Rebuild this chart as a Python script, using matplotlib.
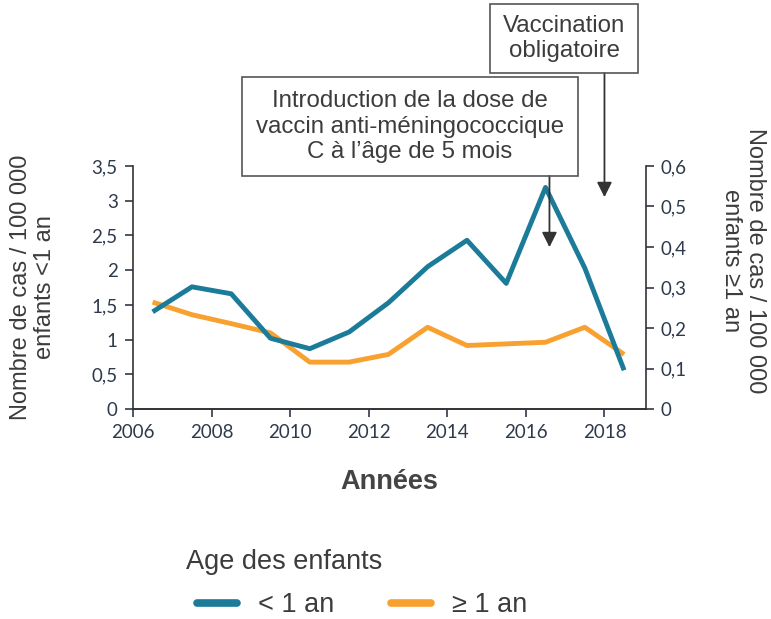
import matplotlib.pyplot as plt
import matplotlib.transforms as mtransforms
from matplotlib.patches import Rectangle

# Data
annees = [2006.5, 2007.5, 2008.5, 2009.5, 2010.5, 2011.5, 2012.5,
          2013.5, 2014.5, 2015.5, 2016.5, 2017.5, 2018.5]
moins_1an = [1.40, 1.76, 1.66, 1.02, 0.87, 1.11, 1.53,
             2.05, 2.43, 1.81, 3.19, 2.03, 0.56]
plus_1an = [0.264, 0.233, 0.211, 0.188, 0.116, 0.116, 0.135,
            0.202, 0.157, 0.161, 0.165, 0.202, 0.135]

left_ticks = [0, 0.5, 1, 1.5, 2, 2.5, 3, 3.5]
left_labels = ['0', '0,5', '1', '1,5', '2', '2,5', '3', '3,5']
right_ticks = [0, 0.1, 0.2, 0.3, 0.4, 0.5, 0.6]
right_labels = ['0', '0,1', '0,2', '0,3', '0,4', '0,5', '0,6']
x_ticks = [2006, 2008, 2010, 2012, 2014, 2016, 2018]

blue = '#1b7b99'
orange = '#f9a130'
tick_col = '#2e3a4c'
txt_col = '#3c3c3c'

plt.rcParams['font.family'] = ['Liberation Sans', 'DejaVu Sans']

fig = plt.figure(figsize=(7.71, 6.19), dpi=100)
ax = fig.add_axes([0.1725, 0.339, 0.665, 0.393])
ax2 = ax.twinx()

l1, = ax.plot(annees, moins_1an, color=blue, lw=3.5, solid_capstyle='butt', zorder=3)
l2, = ax2.plot(annees, plus_1an, color=orange, lw=3.5, solid_capstyle='butt', zorder=2)

ax.set_xlim(2006, 2019.05)
ax.set_ylim(0, 3.5)
ax2.set_ylim(0, 0.6)
ax.set_xticks(x_ticks)
ax.set_xticklabels([str(t) for t in x_ticks])
ax.set_yticks(left_ticks)
ax.set_yticklabels(left_labels)
ax2.set_yticks(right_ticks)
ax2.set_yticklabels(right_labels)

for a in (ax, ax2):
    a.spines['top'].set_visible(False)
    for s in a.spines.values():
        s.set_color('#333333')
        s.set_linewidth(1.2)
    a.tick_params(colors=tick_col, labelsize=13.5, length=6, width=1.2, pad=5)
    for lab in a.get_xticklabels() + a.get_yticklabels():
        lab.set_family('Lato')
ax2.spines['left'].set_visible(False)
ax.spines['right'].set_visible(False)
ax.set_zorder(ax2.get_zorder() + 1)
ax.patch.set_visible(False)

ax.set_ylabel('Nombre de cas / 100 000\nenfants <1 an', fontsize=17, color=txt_col,
              linespacing=1.15)
ax.yaxis.set_label_coords(-0.15, 0.5)
ax2.set_ylabel('Nombre de cas / 100 000\nenfants ≥1 an', fontsize=17, color=txt_col,
               rotation=270, linespacing=1.15)
ax2.yaxis.set_label_coords(1.235, 0.61)
ax.set_xlabel('Années', fontsize=19.5, fontweight='bold', color='#444444', labelpad=20)

# annotation boxes
W, H = 771, 619
boxes = [
    ((242, 77, 578, 176), 'Introduction de la dose de\nvaccin anti-méningococcique\nC à l\u2019âge de 5 mois', 2016.6, 2.33),
    ((490, 4, 638, 73), 'Vaccination\nobligatoire', 2018.0, 3.05),
]
blend = mtransforms.blended_transform_factory(ax.transData, fig.transFigure)
for (x0, y0, x1, y1), txt, xa, ya in boxes:
    fig.patches.append(Rectangle((x0 / W, 1 - y1 / H), (x1 - x0) / W, (y1 - y0) / H,
                                 transform=fig.transFigure, fill=False,
                                 edgecolor='#555555', lw=1.2))
    fig.text((x0 + x1) / 2 / W, 1 - (y0 + y1) / 2 / H, txt, ha='center', va='center',
             fontsize=17.3, color=txt_col, linespacing=1.2)
    ax.annotate('', xy=(xa, ya), xycoords='data',
                xytext=(xa, 1 - y1 / H), textcoords=blend,
                arrowprops=dict(arrowstyle='-|>,head_length=0.9,head_width=0.45',
                                color='#333333', lw=1.3, shrinkA=0, shrinkB=0),
                annotation_clip=False)

# legend
fig.text(186 / W, 1 - 562 / H, 'Age des enfants', fontsize=19.5, color=txt_col,
         ha='left', va='center')
leg = fig.legend([l1, l2], ['< 1 an', '≥ 1 an'], loc='center left',
                 bbox_to_anchor=(0.256, 1 - 605 / H), ncol=2, frameon=False,
                 fontsize=19.5, handlelength=1.45, handletextpad=0.8,
                 columnspacing=2.1, borderpad=0, borderaxespad=0)
for h in leg.legend_handles:
    h.set_linewidth(5.5)
    h.set_solid_capstyle('round')
for t in leg.get_texts():
    t.set_color(txt_col)

fig.savefig('out.png', dpi=100)
